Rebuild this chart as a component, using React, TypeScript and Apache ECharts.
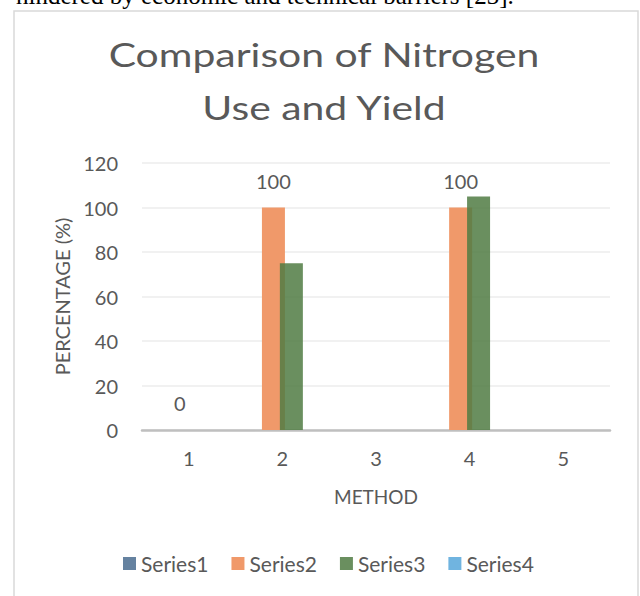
import React, { useEffect, useRef } from "react";
import * as echarts from "echarts";

const categories = ["1", "2", "3", "4", "5"];
const seriesNames = ["Series1", "Series2", "Series3", "Series4"];
const series1: (number | null)[] = [null, null, null, null, null];
const series2: (number | null)[] = [0, 100, null, 100, null];
const series3: (number | null)[] = [null, 75, null, 105, null];
const series4: (number | null)[] = [null, null, null, null, null];
const yTicks = { min: 0, max: 120, interval: 20 };
const titleText = "Comparison of Nitrogen\nUse and Yield";
const topText = "hindered by economic and technical barriers [23].";

const FONT = "Lato";
const GRAY = "#595959";

export default function App() {
  const ref = useRef<HTMLDivElement>(null);
  useEffect(() => {
    if (!ref.current) return;
    const chart = echarts.init(ref.current, null, { renderer: "svg" });
    const common = {
      type: "bar" as const,
      barWidth: 23,
      barGap: "-22%",
      barCategoryGap: "20%",
    };
    chart.setOption({
      animation: false,
      backgroundColor: "#ffffff",
      textStyle: { fontFamily: FONT },
      graphic: [
        {
          type: "text",
          x: 16,
          y: -5,
          style: {
            text: topText,
            font: "25px 'Liberation Serif', 'Times New Roman', serif",
            fill: "#000000",
            align: "left",
            verticalAlign: "middle",
          },
        },
        {
          type: "rect",
          shape: { x: 14, y: 11, width: 624, height: 600 },
          style: { fill: "none", stroke: "#d9d9d9", lineWidth: 1.5 },
          z: 0,
        },
        {
          type: "text",
          x: 324,
          y: 81,
          scaleX: 1.24,
          style: {
            text: titleText,
            font: "33px Lato",
            fill: GRAY,
            align: "center",
            verticalAlign: "middle",
            lineHeight: 53,
          },
        },
      ],
      grid: { left: 142, right: 30, top: 163, bottom: 166, containLabel: false },
      xAxis: {
        type: "category",
        data: categories,
        name: "METHOD",
        nameLocation: "middle",
        nameGap: 57,
        nameTextStyle: { fontFamily: FONT, fontSize: 19, color: GRAY },
        axisLine: { lineStyle: { color: "#bfbfbf", width: 2.5 } },
        axisTick: { show: false },
        axisLabel: { fontFamily: FONT, fontSize: 20, color: GRAY, margin: 18 },
      },
      yAxis: {
        type: "value",
        min: yTicks.min,
        max: yTicks.max,
        interval: yTicks.interval,
        name: "PERCENTAGE (%)",
        nameLocation: "middle",
        nameGap: 69,
        nameTextStyle: { fontFamily: FONT, fontSize: 20, color: GRAY },
        axisLine: { show: false },
        axisTick: { show: false },
        axisLabel: { fontFamily: FONT, fontSize: 20, color: GRAY, margin: 24 },
        splitLine: { lineStyle: { color: "#ededed", width: 1.5 } },
      },
      legend: {
        data: seriesNames,
        bottom: 17,
        left: 118,
        itemWidth: 13,
        itemHeight: 13,
        itemGap: 23,
        icon: "rect",
        textStyle: { fontFamily: FONT, fontSize: 21, color: GRAY },
      },
      series: [
        { ...common, name: seriesNames[0], data: series1, itemStyle: { color: "#6582A0" } },
        {
          ...common,
          name: seriesNames[1],
          data: series2,
          itemStyle: { color: "#F0996A" },
          label: {
            show: true,
            position: "top",
            distance: 17,
            fontFamily: FONT,
            fontSize: 20,
            color: GRAY,
          },
        },
        {
          ...common,
          name: seriesNames[2],
          data: series3,
          itemStyle: { color: "rgba(80,123,67,0.85)" },
        },
        { ...common, name: seriesNames[3], data: series4, itemStyle: { color: "#70B4E0" } },
      ],
    });
    return () => chart.dispose();
  }, []);
  return (
    <div
      ref={ref}
      style={{ position: "absolute", left: 0, top: 0, width: 640, height: 596 }}
    />
  );
}
